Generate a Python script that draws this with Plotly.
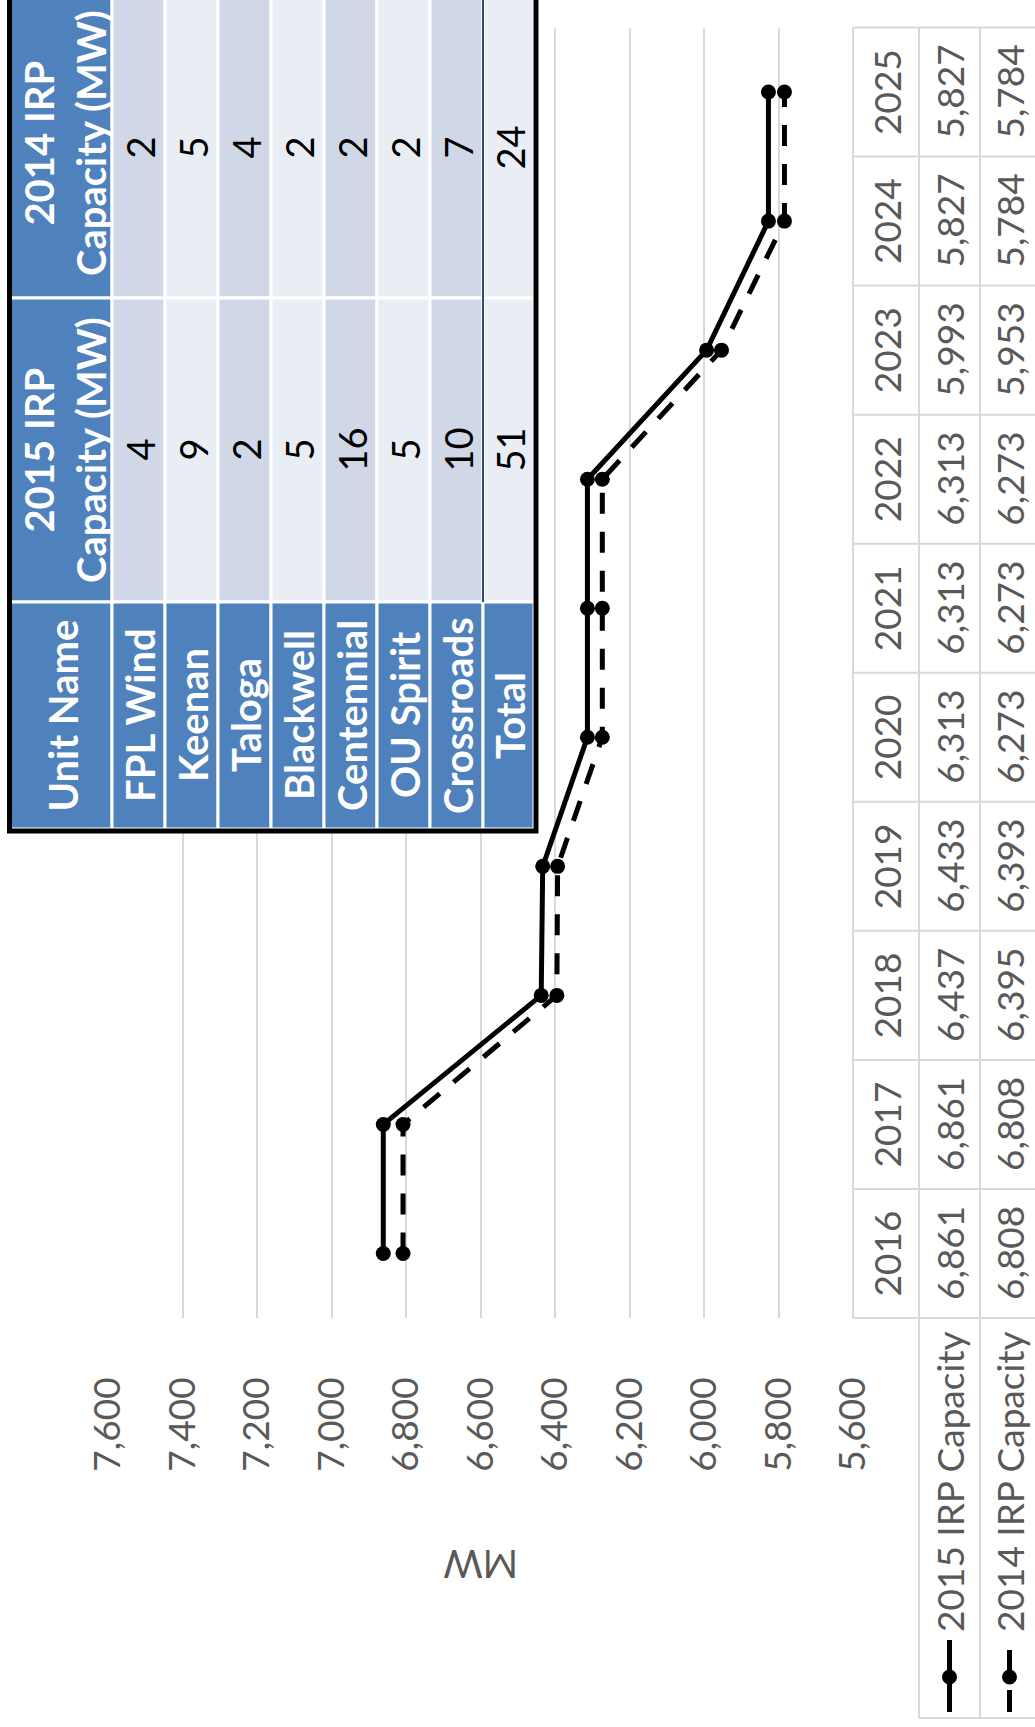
import plotly.graph_objects as go

# ---- series data -------------------------------------------------------
years = ["2016", "2017", "2018", "2019", "2020", "2021", "2022", "2023", "2024", "2025"]
cap_2015 = [6861, 6861, 6437, 6433, 6313, 6313, 6313, 5993, 5827, 5827]
cap_2014 = [6808, 6808, 6395, 6393, 6273, 6273, 6273, 5953, 5784, 5784]
series_names = ["2015 IRP Capacity", "2014 IRP Capacity"]
mw_ticks = [5600, 5800, 6000, 6200, 6400, 6600, 6800, 7000, 7200, 7400, 7600]

# ---- wind unit table data ----------------------------------------------
unit_names = ["FPL Wind", "Keenan", "Taloga", "Blackwell", "Centennial",
              "OU Spirit", "Crossroads", "Total"]
unit_cap_2015 = [4, 9, 2, 5, 16, 5, 10, 51]
unit_cap_2014 = [2, 5, 4, 2, 2, 2, 7, 24]
unit_headers = ["Unit Name", "2015 IRP<br>Capacity (MW)", "2014 IRP<br>Capacity (MW)"]

# ---- page geometry (pixels) --------------------------------------------
W, H = 1035, 1727
PL, PR, PT, PB = 108, 853, 27.5, 1318      # plot area

def fx(px):
    return px / W

def fy(py):
    return 1 - py / H

FONT = "Lato"
GRAY = "#595959"
GRID = "#D9D9D9"
BLUE = "#4F81BD"
BAND_DARK = "#D0D8E8"
BAND_LIGHT = "#E9EDF4"

idx = list(range(len(years)))

fig = go.Figure()
fig.add_trace(go.Scatter(
    x=cap_2014, y=idx, name=series_names[1], mode="lines+markers",
    line=dict(color="black", width=5, dash="21px,18px"),
    marker=dict(color="black", size=15), cliponaxis=False))
fig.add_trace(go.Scatter(
    x=cap_2015, y=idx, name=series_names[0], mode="lines+markers",
    line=dict(color="black", width=5),
    marker=dict(color="black", size=15), cliponaxis=False))

shapes = []
annotations = []

# ---- year / value table along the category axis -------------------------
tcol = [853, 919, 980, 1041]
step = (PB - PT) / len(years)
line_style = dict(color=GRID, width=2)
for k in range(len(years) + 1):
    yy = PT + k * step
    shapes.append(dict(type="line", xref="paper", yref="paper",
                       x0=fx(tcol[0]), x1=fx(tcol[3]), y0=fy(yy), y1=fy(yy),
                       line=line_style, layer="above"))
shapes.append(dict(type="line", xref="paper", yref="paper",
                   x0=fx(tcol[0]), x1=fx(tcol[0]), y0=fy(PT), y1=fy(PB),
                   line=line_style, layer="above"))
LEG_B = 1718
for cx in (tcol[1], tcol[2]):
    shapes.append(dict(type="line", xref="paper", yref="paper",
                       x0=fx(cx), x1=fx(cx), y0=fy(PT), y1=fy(LEG_B),
                       line=line_style, layer="above"))
shapes.append(dict(type="line", xref="paper", yref="paper",
                   x0=fx(tcol[1]), x1=fx(tcol[3]), y0=fy(LEG_B), y1=fy(LEG_B),
                   line=line_style, layer="above"))

cell_font = dict(family=FONT, size=37, color=GRAY)
col_centers = [(tcol[0] + tcol[1]) / 2, (tcol[1] + tcol[2]) / 2, (tcol[2] + tcol[3]) / 2 - 1]
for i, yr in enumerate(years):
    for cx, txt in zip(col_centers, [yr, f"{cap_2015[i]:,}", f"{cap_2014[i]:,}"]):
        annotations.append(dict(x=fx(cx), y=i, xref="paper", yref="y", text=txt,
                                textangle=-90, showarrow=False, font=cell_font,
                                xanchor="center", yanchor="middle"))

# legend keys inside the table
for cx, name, dashed in [(col_centers[1], series_names[0], False),
                         (col_centers[2], series_names[1], True)]:
    annotations.append(dict(x=fx(cx), y=fy(1634), xref="paper", yref="paper",
                            text=name, textangle=-90, showarrow=False, font=cell_font,
                            xanchor="center", yanchor="bottom"))
    segs = [(1650, 1677), (1690, 1712)] if dashed else [(1640, 1712)]
    for a, b in segs:
        shapes.append(dict(type="line", xref="paper", yref="paper",
                           x0=fx(cx), x1=fx(cx), y0=fy(a), y1=fy(b),
                           line=dict(color="black", width=5), layer="above"))
    r = 7.5
    shapes.append(dict(type="circle", xref="paper", yref="paper",
                       x0=fx(cx - r), x1=fx(cx + r), y0=fy(1677 - r), y1=fy(1677 + r),
                       fillcolor="black", line=dict(color="black", width=0), layer="above"))

# ---- axis title -----------------------------------------------------------
annotations.append(dict(x=fx((PL + PR) / 2), y=fy(1565), xref="paper", yref="paper",
                        text="MW", textangle=180, showarrow=False,
                        font=dict(family=FONT, size=38, color=GRAY),
                        xanchor="center", yanchor="middle"))

# ---- wind unit table (inset) --------------------------------------------
row_x = [10, 112, 165, 218, 271, 324, 377, 430, 483, 534]
col_y = [-12, 298, 602, 829]   # 2014 column, 2015 column, unit-name column
cell_line = dict(color="white", width=3)

# header row
for c in range(3):
    shapes.append(dict(type="rect", xref="paper", yref="paper",
                       x0=fx(row_x[0]), x1=fx(row_x[1]), y0=fy(col_y[c]), y1=fy(col_y[c + 1]),
                       fillcolor=BLUE, line=cell_line, layer="above"))
for r in range(len(unit_names)):
    x0, x1 = row_x[r + 1], row_x[r + 2]
    band = BAND_DARK if r % 2 == 0 else BAND_LIGHT
    for c in range(2):
        shapes.append(dict(type="rect", xref="paper", yref="paper",
                           x0=fx(x0), x1=fx(x1), y0=fy(col_y[c]), y1=fy(col_y[c + 1]),
                           fillcolor=band, line=cell_line, layer="above"))
    shapes.append(dict(type="rect", xref="paper", yref="paper",
                       x0=fx(x0), x1=fx(x1), y0=fy(col_y[2]), y1=fy(col_y[3]),
                       fillcolor=BLUE, line=cell_line, layer="above"))

# rule above the total row
shapes.append(dict(type="line", xref="paper", yref="paper",
                   x0=fx(row_x[8]), x1=fx(row_x[8]), y0=fy(col_y[0]), y1=fy(col_y[2]),
                   line=dict(color="#2F4B73", width=2), layer="above"))
# outer frame
shapes.append(dict(type="rect", xref="paper", yref="paper",
                   x0=fx(9.5), x1=fx(536), y0=fy(-20), y1=fy(831),
                   line=dict(color="black", width=5), layer="above"))

head_font = dict(family=FONT, size=40, color="white", weight="bold")
val_font = dict(family=FONT, size=38, color="black")
col_mid = [(col_y[i] + col_y[i + 1]) / 2 for i in range(3)]
annotations.append(dict(x=fx(62), y=fy(col_mid[2]), xref="paper", yref="paper",
                        text=unit_headers[0], textangle=-90, showarrow=False,
                        font=head_font, xanchor="center", yanchor="middle"))
for c, hdr in zip([1, 0], unit_headers[1:]):
    annotations.append(dict(x=fx(65), y=fy(col_mid[c]), xref="paper", yref="paper",
                            text=hdr, textangle=-90, showarrow=False,
                            font=head_font, xanchor="center", yanchor="middle"))
for r, name in enumerate(unit_names):
    cx = (row_x[r + 1] + row_x[r + 2]) / 2 + 1
    annotations.append(dict(x=fx(cx), y=fy(col_mid[2]), xref="paper", yref="paper",
                            text=name, textangle=-90, showarrow=False,
                            font=head_font, xanchor="center", yanchor="middle"))
    annotations.append(dict(x=fx(cx), y=fy(col_mid[1]), xref="paper", yref="paper",
                            text=str(unit_cap_2015[r]), textangle=-90, showarrow=False,
                            font=val_font, xanchor="center", yanchor="middle"))
    annotations.append(dict(x=fx(cx), y=fy(col_mid[0] + 5), xref="paper", yref="paper",
                            text=str(unit_cap_2014[r]), textangle=-90, showarrow=False,
                            font=val_font, xanchor="center", yanchor="middle"))

fig.update_layout(
    width=W, height=H, autosize=False,
    margin=dict(l=0, r=0, t=0, b=0),
    paper_bgcolor="white", plot_bgcolor="white",
    showlegend=False,
    xaxis=dict(domain=[fx(PL), fx(PR)], range=[7600, 5600], tickvals=mw_ticks,
               tickformat=",", tickangle=-90, ticks="", showline=False,
               zeroline=False, showgrid=True, gridcolor=GRID, gridwidth=2,
               tickfont=dict(family=FONT, size=37, color=GRAY),
               ticklabelstandoff=51, automargin=False),
    yaxis=dict(domain=[fy(PB), fy(PT)], range=[-0.5, len(years) - 0.5],
               showticklabels=False, showgrid=False, zeroline=False,
               showline=False, ticks="", automargin=False),
    shapes=shapes, annotations=annotations,
)

fig.write_html("out.html")
